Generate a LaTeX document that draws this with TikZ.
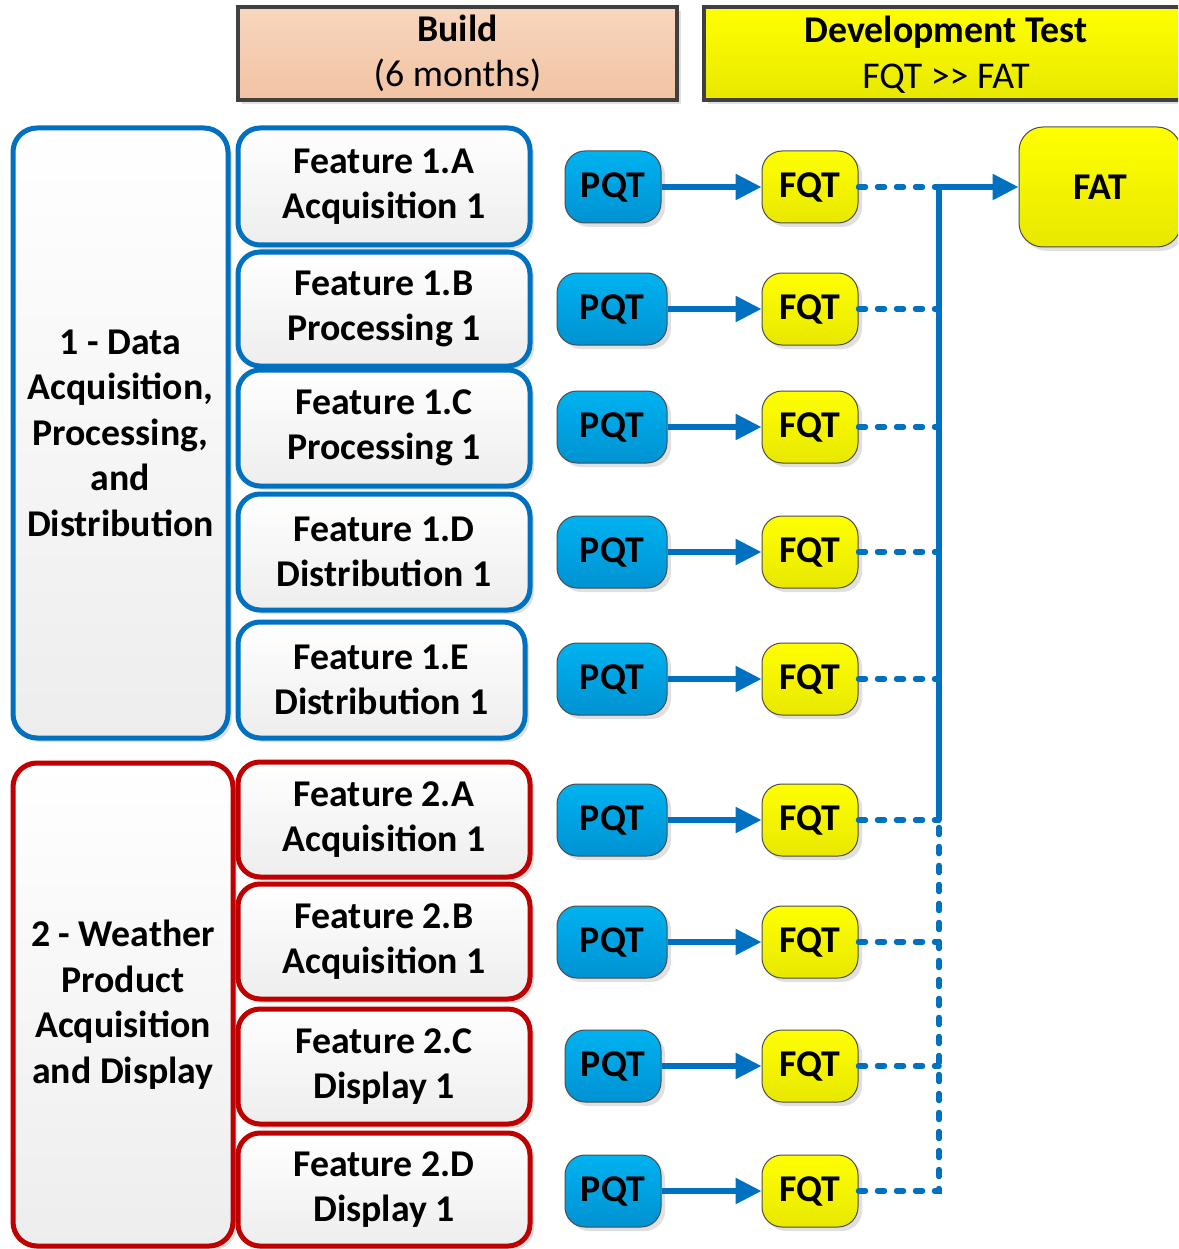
\documentclass[tikz,border=0pt]{standalone}
\usepackage{fontspec}
\setmainfont{Carlito}
\usetikzlibrary{shadows,arrows.meta}
\definecolor{cblue}{HTML}{0070C0}
\definecolor{cred}{HTML}{C00000}
\definecolor{hdrgray}{HTML}{404040}
\tikzset{
  bigfont/.style={font=\fontsize{37.8}{45.5}\selectfont},
  shad/.style={drop shadow={shadow xshift=4pt,shadow yshift=-4pt,fill=black!12,opacity=1}},
  hdr/.style={bigfont,draw=hdrgray,line width=4pt,shad,align=center,inner sep=0pt},
  grp/.style={bigfont,line width=5pt,rounded corners=24pt,shad,top color=white,bottom color=black!7,align=center,inner sep=0pt},
  feat/.style={grp,rounded corners=22pt},
  pqt/.style={font=\fontsize{37.8}{45.5}\selectfont\bfseries,draw=black!70,line width=1pt,rounded corners=20pt,shad,inner sep=0pt,minimum height=72pt},
  pqtc/.style={top color={rgb,255:red,0;green,178;blue,240},bottom color={rgb,255:red,0;green,146;blue,210}},
  fqt/.style={pqt,top color=yellow,bottom color={rgb,255:red,232;green,232;blue,0},minimum width=96pt},
  conn/.style={cblue,line width=5.5pt},
  dashconn/.style={cblue,line width=5.5pt,line cap=round,dash pattern=on 7pt off 12pt},
  tip/.style={-{Triangle[length=26pt,width=25pt]}}
}
\begin{document}
\begin{tikzpicture}[x=1pt,y=-1pt]
\clip (0,0) rectangle (1178,1249);
\fill[white] (0,0) rectangle (1178,1249);

% headers
\node[hdr,top color={rgb,255:red,248;green,214;blue,190},bottom color={rgb,255:red,241;green,195;blue,163},minimum width=439pt,minimum height=93pt] (build) at (457.5,53.5) {\textbf{Build}\\(6 months)};
\node[hdr,top color=yellow,bottom color={rgb,255:red,232;green,232;blue,0},minimum width=490pt,minimum height=93pt] (devtest) at (949,53.5) {};
\node[bigfont,align=center] (devtxt) at (946,54.5) {\textbf{Development Test}\\FQT >{}> FAT};

% groups
\node[grp,draw=cblue,minimum width=215pt,minimum height=610pt] (g1) at (120.5,433) {\textbf{1 - Data}\\\textbf{Acquisition,}\\\textbf{Processing,}\\\textbf{and}\\\textbf{Distribution}};
\node[grp,draw=cred,minimum width=220pt,minimum height=483pt] (g2) at (123,1004.5) {\textbf{2 - Weather}\\\textbf{Product}\\\textbf{Acquisition}\\\textbf{and Display}};

% features
\node[feat,draw=cblue,minimum width=292pt,minimum height=117pt] (f1) at (384,186.5) {\textbf{Feature 1.A}\\\textbf{Acquisition 1}};
\node[feat,draw=cblue,minimum width=292pt,minimum height=114pt] (f2) at (384,309) {\textbf{Feature 1.B}\\\textbf{Processing 1}};
\node[feat,draw=cblue,minimum width=292pt,minimum height=116pt] (f3) at (384,428) {\textbf{Feature 1.C}\\\textbf{Processing 1}};
\node[feat,draw=cblue,minimum width=292pt,minimum height=116pt] (f4) at (384,552) {\textbf{Feature 1.D}\\\textbf{Distribution 1}};
\node[feat,draw=cblue,minimum width=287pt,minimum height=116pt] (f5) at (381.5,680) {\textbf{Feature 1.E}\\\textbf{Distribution 1}};
\node[feat,draw=cred,minimum width=292pt,minimum height=115pt] (f6) at (384,819.5) {\textbf{Feature 2.A}\\\textbf{Acquisition 1}};
\node[feat,draw=cred,minimum width=292pt,minimum height=115pt] (f7) at (384,941.5) {\textbf{Feature 2.B}\\\textbf{Acquisition 1}};
\node[feat,draw=cred,minimum width=292pt,minimum height=115pt] (f8) at (384,1066.5) {\textbf{Feature 2.C}\\\textbf{Display 1}};
\node[feat,draw=cred,minimum width=292pt,minimum height=113pt] (f9) at (384,1189.5) {\textbf{Feature 2.D}\\\textbf{Display 1}};

% PQT / FQT
\foreach \i/\y/\w/\cx in {1/187/96/613,2/309/110/612,3/427/110/612,4/552/110/612,5/679/110/612,6/820/110/612,7/942/110/612,8/1066/96/613,9/1191/96/613}{
  \node[pqt,pqtc,minimum width=\w pt] (p\i) at (\cx,\y) {PQT};
  \node[fqt] (q\i) at (810,\y) {FQT};
  \draw[conn,tip] (p\i.east) -- (q\i.west);
}

% FAT
\node[pqt,top color=yellow,bottom color={rgb,255:red,232;green,232;blue,0},rounded corners=24pt,minimum width=162pt,minimum height=120pt] (fat) at (1100,187) {FAT};

% collector
\coordinate (j1) at (939,187);
\coordinate (j6) at (939,820);
\coordinate (j9) at (939,1191);
\draw[dashconn] (q1.east) -- (j1);
\foreach \i/\y in {2/309,3/427,4/552,5/679,6/820,7/942,8/1066}{
  \draw[dashconn] (q\i.east) -- (939,\y);
}
\draw[dashconn] (q9.east) -- (j9) -- (j6);
\draw[conn] (j6) -- (j1);
\draw[conn,tip] (j1) -- (fat.west);
\end{tikzpicture}
\end{document}
